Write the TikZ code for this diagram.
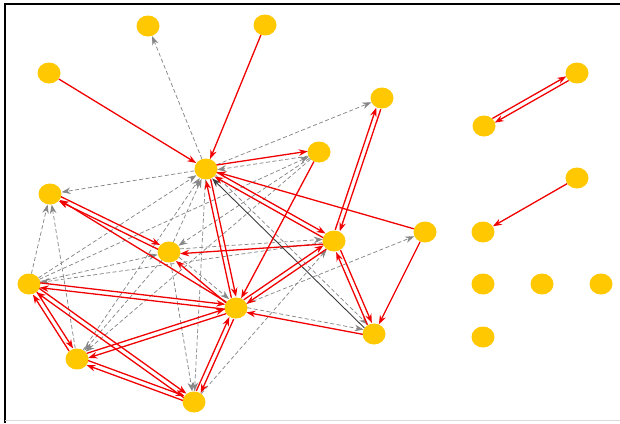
\documentclass[tikz,border=0pt]{standalone}
\usetikzlibrary{shapes.geometric,arrows.meta,calc}
\definecolor{nodey}{RGB}{255,200,0}
\definecolor{edgered}{RGB}{240,0,0}
\definecolor{dashg}{RGB}{135,135,135}
\definecolor{darkg}{RGB}{60,60,60}
\tikzset{
 vtx/.style={ellipse,fill=nodey,minimum width=23pt,minimum height=21pt,inner sep=0pt},
 tip/.style={-{Stealth[length=9pt,width=6.5pt]}},
 rd/.style={draw=edgered,line width=1.3pt,tip},
 ds/.style={draw=dashg,line width=0.75pt,dash pattern=on 4pt off 2.5pt,tip},
 dk/.style={draw=darkg,line width=0.9pt,tip},
 cut/.style={shorten >=11pt,shorten <=11pt},
}
\newcommand\oline[3]{%
 \draw[#1,cut] ($(#2)!2.4pt!90:(#3)$) -- ($(#3)!2.4pt!-90:(#2)$);
}
\newcommand\rpair[2]{\oline{rd}{#1}{#2}\oline{rd}{#2}{#1}}
\begin{document}
\begin{tikzpicture}[x=1pt,y=-1pt]
\useasboundingbox (0,0) rectangle (620,423);
\draw[black,line width=2pt] (620,4) -- (5,4) -- (5,423);
\draw[black!15,line width=1pt] (5,420) -- (620,420);
\node[vtx] (A) at (148,26) {};
\node[vtx] (B) at (265,25) {};
\node[vtx] (C) at (49,73) {};
\node[vtx] (D) at (577,73) {};
\node[vtx] (E) at (382,98) {};
\node[vtx] (F) at (484,126) {};
\node[vtx] (G) at (206,169) {};
\node[vtx] (H) at (319,152) {};
\node[vtx] (I) at (50,194) {};
\node[vtx] (J) at (577,178) {};
\node[vtx] (K) at (334,241) {};
\node[vtx] (L) at (425,232) {};
\node[vtx] (M) at (483,232) {};
\node[vtx] (N) at (169,252) {};
\node[vtx] (O) at (29,284) {};
\node[vtx] (P) at (236,308) {};
\node[vtx] (Q) at (483,284) {};
\node[vtx] (R) at (542,284) {};
\node[vtx] (S) at (601,284) {};
\node[vtx] (T) at (374,334) {};
\node[vtx] (U) at (483,337) {};
\node[vtx] (V) at (77,359) {};
\node[vtx] (W) at (194,402) {};
% dashed
\draw[ds] (G) -- (A);
\draw[ds] (G) -- (I);
\draw[ds] (G) -- (E);
\draw[ds] (P) -- (L);
\draw[ds] (W) -- (K);
\draw[ds] (O) -- (I);
\draw[ds] (V) -- (I);
\draw[ds] (O) -- (G);
\draw[ds] (V) -- (G);
\draw[ds] (N) -- (G);
\draw[ds] (H) -- (N);
\draw[ds] (O) -- (N);
\draw[ds] (N) -- (V);
\draw[ds] (H) -- (V);
\draw[ds] (N) -- (W);
\draw[ds] (G) -- (W);
\draw[ds] (O) -- (H);
\draw[ds] (K) -- (O);
% mixed pairs
\oline{rd}{G}{H}\oline{ds}{H}{G}
\oline{rd}{K}{N}\oline{ds}{N}{K}
\oline{rd}{T}{P}\oline{ds}{P}{T}
\oline{dk}{T}{G}\oline{ds}{G}{T}
\oline{rd}{P}{N}\oline{ds}{N}{P}
% red single
\draw[rd] (C) -- (G);
\draw[rd] (B) -- (G);
\draw[rd] (H) -- (P);
\draw[rd] (J) -- (M);
\draw[rd] (L) -- (G);
\draw[rd] (L) -- (T);
\draw[rd] (P) -- (I);
% red pairs
\rpair{D}{F}
\rpair{E}{K}
\rpair{K}{T}
\rpair{G}{K}
\rpair{G}{P}
\rpair{I}{N}
\rpair{O}{P}
\rpair{O}{V}
\rpair{O}{W}
\rpair{V}{P}
\rpair{V}{W}
\rpair{P}{W}
\rpair{K}{P}
\end{tikzpicture}
\end{document}
